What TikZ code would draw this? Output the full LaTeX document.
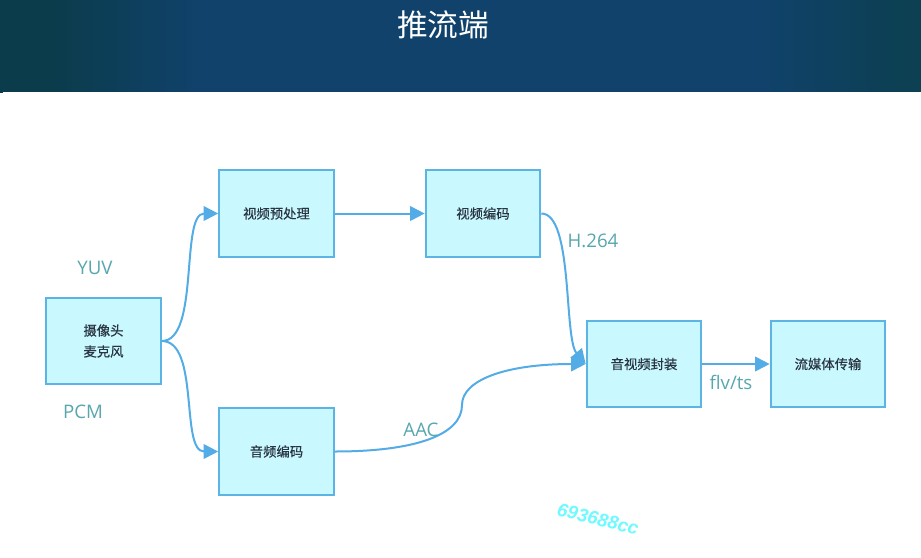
\documentclass[tikz,border=0pt]{standalone}
\usepackage{fontspec}
\setmainfont{Open Sans}
\newfontfamily\cjk{Noto Sans CJK SC}
\newfontfamily\cjkbox[FakeBold=0.4]{Noto Sans CJK SC}
\usetikzlibrary{arrows.meta}

\definecolor{bnNavy}{RGB}{9,36,76}
\definecolor{bnTeal}{RGB}{11,60,76}
\definecolor{bnBlue}{RGB}{16,66,108}
\definecolor{bnTealR}{RGB}{12,64,82}
\definecolor{bnNavyR}{RGB}{10,40,86}
\definecolor{boxFill}{RGB}{202,248,255}
\definecolor{boxLine}{RGB}{92,180,228}
\definecolor{flowLine}{RGB}{84,172,230}
\definecolor{labelTeal}{RGB}{88,166,174}
\definecolor{boxText}{RGB}{40,52,64}
\definecolor{markCyan}{RGB}{110,250,255}

\pgfdeclarehorizontalshading{bannershade}{100bp}{%
  color(0bp)=(bnNavy); color(4bp)=(bnNavy); color(12bp)=(bnTeal);
  color(28bp)=(bnTeal); color(36bp)=(bnBlue); color(66bp)=(bnBlue);
  color(74bp)=(bnTealR); color(92bp)=(bnTealR); color(97bp)=(bnNavyR);
  color(100bp)=(bnNavyR)}

\tikzset{
  stage/.style={draw=boxLine, line width=1.5pt, fill=boxFill,
    minimum width=86pt, minimum height=65pt, inner sep=0pt,
    font=\cjkbox\fontsize{10}{15.7}\selectfont, text=boxText, align=center},
  flow/.style={draw=flowLine, line width=1.5pt,
    -{Triangle[length=11pt,width=11pt]}},
  fmt/.style={text=labelTeal, font=\fontsize{14}{16}\selectfont, inner sep=0pt},
}

\begin{document}
\begin{tikzpicture}[x=0.75pt, y=-0.75pt]
  \useasboundingbox (0,0) rectangle (921,557);

  % title banner and page background
  \shade[shading=bannershade] (0,0) rectangle (921,92);
  \fill[white] (3,92) rectangle (921,557);
  \node[text=white, font=\cjk\fontsize{23}{26}\selectfont] (title) at (443,25) {推流端};

  % processing stages
  \node[stage] (cam)    at (103.5,341)  {摄像头\\麦克风};
  \node[stage] (pre)    at (276.5,213.5) {视频预处理};
  \node[stage] (venc)   at (483,213.5)  {视频编码};
  \node[stage] (aenc)   at (276.5,451.5) {音频编码};
  \node[stage] (mux)    at (644,364)    {音视频封装};
  \node[stage] (stream) at (828,364)    {流媒体传输};

  % inflection point of the audio path
  \coordinate (abend) at (462,405);

  % data flow
  \draw[flow] (cam.east) .. controls +(38,0) and +(-38,0) .. (pre.west);
  \draw[flow] (cam.east) .. controls +(38,0) and +(-38,0) .. (aenc.west);
  \draw[flow] (pre.east) -- (venc.west);
  \draw[flow] (venc.east) .. controls +(32,0) and +(-22,-26) .. (mux.west);
  \draw[flow] (aenc.east) .. controls +(80,0) and +(0,30) .. (abend)
                          .. controls +(0,-25) and +(-80,0) .. (mux.west);
  \draw[flow] (mux.east) -- (stream.west);

  % stream format labels
  \node[fmt] (yuv)  at (95,268)  {YUV};
  \node[fmt] (pcm)  at (83,412)  {PCM};
  \node[fmt] (h264) at (593,241) {H.264};
  \node[fmt] (aac)  at (421,430) {AAC};
  \node[fmt] (flv)  at (731,382) {flv/ts};

  % author mark
  \node[text=markCyan, rotate=-14, inner sep=0pt,
        font=\fontspec{Liberation Sans}\bfseries\itshape\fontsize{14}{16}\selectfont]
        (mark) at (598,519) {693688cc};
\end{tikzpicture}
\end{document}
